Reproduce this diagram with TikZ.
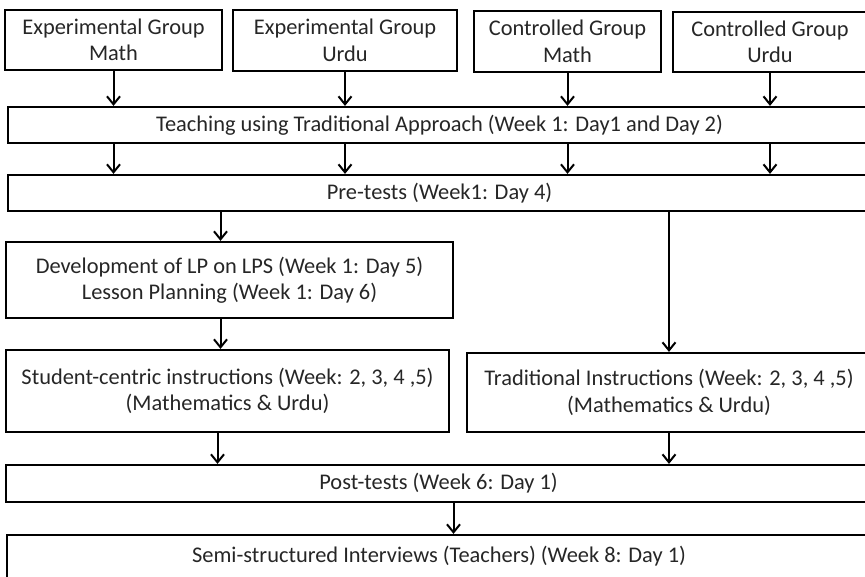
\documentclass[tikz,border=0pt]{standalone}
\usepackage{fontspec}
\setmainfont{Carlito}
\usetikzlibrary{arrows.meta}
\begin{document}
\begin{tikzpicture}[x=1pt,y=-1pt,
  box/.style={draw, line width=2.2pt, align=center, inner sep=0pt, text=black!85,
    font=\fontsize{22.4}{26.5}\selectfont},
  link/.style={->, line width=2pt},
  >={Straight Barb[length=8pt,width=13pt]}]
\clip (0,0) rectangle (865,576);
% groups
\node[box, minimum width=217pt, minimum height=60pt] (egm) at (113.5,40) {Experimental Group\\Math};
\node[box, minimum width=224pt, minimum height=61pt] (egu) at (345,40.5) {Experimental Group\\Urdu};
\node[box, minimum width=187pt, minimum height=61pt] (cgm) at (567.5,41.5) {Controlled Group\\Math};
\node[box, minimum width=194pt, minimum height=60pt] (cgu) at (770,42) {Controlled Group\\Urdu};
% phases
\node[box, minimum width=863pt, minimum height=36pt] (teach) at (439.5,125) {Teaching using Traditional Approach (Week 1: Day1 and Day 2)};
\node[box, minimum width=863pt, minimum height=36pt] (pre) at (439.5,193) {Pre-tests (Week1: Day 4)};
\node[box, minimum width=447pt, minimum height=76pt] (dev) at (229.5,280) {Development of LP on LPS (Week 1: Day 5)\\Lesson Planning (Week 1: Day 6)};
\node[box, minimum width=443pt, minimum height=82pt] (stud) at (227.5,391) {Student-centric instructions (Week: 2, 3, 4 ,5)\\(Mathematics \& Urdu)};
\node[box, minimum width=404pt, minimum height=79pt] (trad) at (669,392.5) {Traditional Instructions (Week: 2, 3, 4 ,5)\\(Mathematics \& Urdu)};
\node[box, minimum width=865pt, minimum height=37pt] (post) at (438.5,483.5) {Post-tests (Week 6: Day 1)};
\node[box, minimum width=864pt, minimum height=43pt] (semi) at (439,556.5) {Semi-structured Interviews (Teachers) (Week 8: Day 1)};
% arrows
\foreach \g in {egm,egu,cgm,cgu}{
  \draw[link] (\g.south) -- (\g.south |- teach.north);
  \draw[link] (\g.south |- teach.south) -- (\g.south |- pre.north);
}
\draw[link] ([xshift=-9pt]dev.north |- pre.south) -- ([xshift=-9pt]dev.north);
\draw[link] (trad.north |- pre.south) -- (trad.north);
\draw[link] ([xshift=-9pt]dev.south) -- ([xshift=-9pt]dev.south |- stud.north);
\draw[link] ([xshift=-10pt]stud.south) -- ([xshift=-10pt]stud.south |- post.north);
\draw[link] (trad.south) -- (trad.south |- post.north);
\draw[link] ([xshift=15pt]post.south) -- ([xshift=15pt]post.south |- semi.north);
\end{tikzpicture}
\end{document}
